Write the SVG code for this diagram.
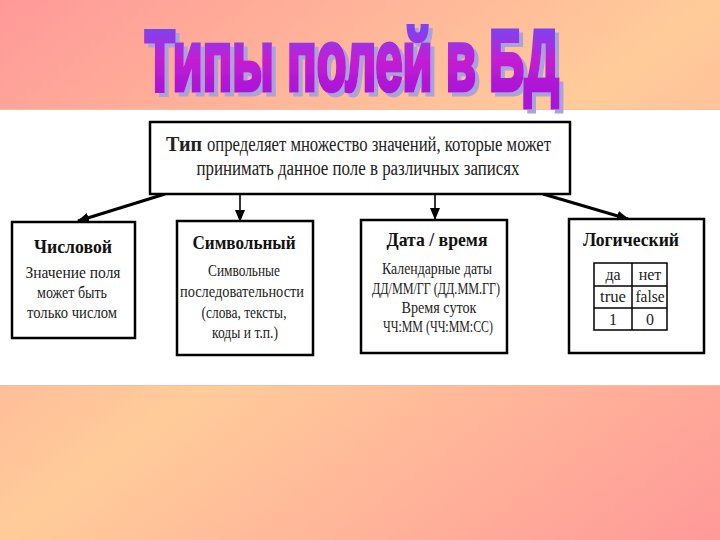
<svg xmlns="http://www.w3.org/2000/svg" width="720" height="540" viewBox="0 0 720 540">
  <defs>
    <linearGradient id="bg" x1="0" y1="0" x2="1" y2="1">
      <stop offset="0" stop-color="#ff9999"/>
      <stop offset="0.5" stop-color="#ffcc99"/>
      <stop offset="1" stop-color="#ff9999"/>
    </linearGradient>
    <linearGradient id="tg" gradientUnits="userSpaceOnUse" x1="0" y1="20" x2="0" y2="67">
      <stop offset="0" stop-color="#7a44f2"/>
      <stop offset="0.5" stop-color="#c41ed2"/>
      <stop offset="1" stop-color="#a814d8"/>
    </linearGradient>
    <filter id="sh" x="-5%" y="-10%" width="115%" height="130%">
      <feOffset in="SourceAlpha" dx="4" dy="3" result="o"/>
      <feFlood flood-color="#a8a4d8"/>
      <feComposite in2="o" operator="in" result="s"/>
      <feMerge><feMergeNode in="s"/><feMergeNode in="SourceGraphic"/></feMerge>
    </filter>
    <marker id="ah" markerUnits="userSpaceOnUse" markerWidth="12" markerHeight="10" refX="11" refY="5" orient="auto">
      <path d="M0,0 L12,5 L0,10 z" fill="#000"/>
    </marker>
    <style>
      .box { fill: #fff; stroke: #000; stroke-width: 2.5; }
      .h { font-family: "Liberation Serif", "DejaVu Serif", serif; font-weight: bold; font-size: 19px; fill: #111; text-anchor: middle; }
      .t { font-family: "Liberation Serif", "DejaVu Serif", serif; font-size: 16px; fill: #222; text-anchor: middle; }
      .top { font-family: "Liberation Serif", "DejaVu Serif", serif; font-size: 20px; fill: #222; }
      .conn { stroke: #000; fill: none; }
      .tbl { stroke: #000; stroke-width: 1.5; fill: none; }
    </style>
  </defs>

  <rect x="0" y="0" width="720" height="540" fill="url(#bg)"/>
  <rect x="0" y="110" width="720" height="275" fill="#ffffff"/>
  <line x1="0" y1="109.5" x2="720" y2="109.5" stroke="#f0c0a8" stroke-width="1"/>
  <line x1="0" y1="385.5" x2="720" y2="385.5" stroke="#f0c0a8" stroke-width="1"/>

  <g id="title" transform="scale(1 1.38)">
    <text x="352" y="65.2" font-family="Liberation Sans, Arial, sans-serif" font-weight="bold" font-size="62" text-anchor="middle" textLength="414" lengthAdjust="spacingAndGlyphs" fill="url(#tg)" stroke="url(#tg)" stroke-width="3.5" stroke-linejoin="miter" filter="url(#sh)">Типы полей в БД</text>
  </g>

  <g id="connectors">
    <line class="conn" x1="165" y1="194" x2="78" y2="221" stroke-width="3" marker-end="url(#ah)"/>
    <line class="conn" x1="240" y1="194" x2="240" y2="221" stroke-width="1.6" marker-end="url(#ah)"/>
    <line class="conn" x1="435" y1="194" x2="435" y2="219" stroke-width="1.6" marker-end="url(#ah)"/>
    <line class="conn" x1="543" y1="194" x2="628" y2="219" stroke-width="3" marker-end="url(#ah)"/>
  </g>

  <g id="node-type">
    <rect class="box" x="150" y="122" width="420" height="72"/>
    <text class="top" x="166" y="151" font-weight="bold" fill="#111" textLength="36" lengthAdjust="spacingAndGlyphs">Тип</text>
    <text class="top" x="207" y="151" textLength="344" lengthAdjust="spacingAndGlyphs">определяет множество значений, которые может</text>
    <text class="top" x="358" y="175" text-anchor="middle" textLength="323" lengthAdjust="spacingAndGlyphs">принимать данное поле в различных записях</text>
  </g>

  <g id="node-number">
    <rect class="box" x="12" y="222" width="123" height="116"/>
    <text class="h" x="73" y="253" textLength="78" lengthAdjust="spacingAndGlyphs">Числовой</text>
    <text class="t" x="73" y="278" textLength="95" lengthAdjust="spacingAndGlyphs">Значение поля</text>
    <text class="t" x="72" y="298" textLength="70" lengthAdjust="spacingAndGlyphs">может быть</text>
    <text class="t" x="72" y="318" textLength="90" lengthAdjust="spacingAndGlyphs">только числом</text>
  </g>

  <g id="node-text">
    <rect class="box" x="177" y="221" width="136" height="134"/>
    <text class="h" x="244" y="249" textLength="103" lengthAdjust="spacingAndGlyphs">Символьный</text>
    <text class="t" x="244" y="276" textLength="72" lengthAdjust="spacingAndGlyphs">Символьные</text>
    <text class="t" x="242" y="297" textLength="124" lengthAdjust="spacingAndGlyphs">последовательности</text>
    <text class="t" x="244" y="318" textLength="85" lengthAdjust="spacingAndGlyphs">(слова, тексты,</text>
    <text class="t" x="245" y="338" textLength="66" lengthAdjust="spacingAndGlyphs">коды и т.п.)</text>
  </g>

  <g id="node-date">
    <rect class="box" x="361" y="220" width="146" height="133"/>
    <text class="h" x="437" y="246" textLength="101" lengthAdjust="spacingAndGlyphs">Дата / время</text>
    <text class="t" x="437" y="274" textLength="110" lengthAdjust="spacingAndGlyphs">Календарные даты</text>
    <text class="t" x="436" y="294" textLength="128" lengthAdjust="spacingAndGlyphs">ДД/ММ/ГГ (ДД.ММ.ГГ)</text>
    <text class="t" x="439" y="313" textLength="75" lengthAdjust="spacingAndGlyphs">Время суток</text>
    <text class="t" x="438" y="332" textLength="110" lengthAdjust="spacingAndGlyphs">ЧЧ:ММ (ЧЧ:ММ:СС)</text>
  </g>

  <g id="node-logic">
    <rect class="box" x="569" y="219" width="135" height="134"/>
    <text class="h" x="631" y="246" textLength="96" lengthAdjust="spacingAndGlyphs">Логический</text>
    <rect class="tbl" x="594" y="263" width="73" height="67"/>
    <line class="tbl" x1="632" y1="263" x2="632" y2="330"/>
    <line class="tbl" x1="594" y1="286" x2="667" y2="286"/>
    <line class="tbl" x1="594" y1="308" x2="667" y2="308"/>
    <text class="t" x="613" y="280">да</text>
    <text class="t" x="650" y="280">нет</text>
    <text class="t" x="613" y="302" textLength="26" lengthAdjust="spacingAndGlyphs">true</text>
    <text class="t" x="650" y="302" textLength="29" lengthAdjust="spacingAndGlyphs">false</text>
    <text class="t" x="613" y="325">1</text>
    <text class="t" x="650" y="325">0</text>
  </g>
</svg>
